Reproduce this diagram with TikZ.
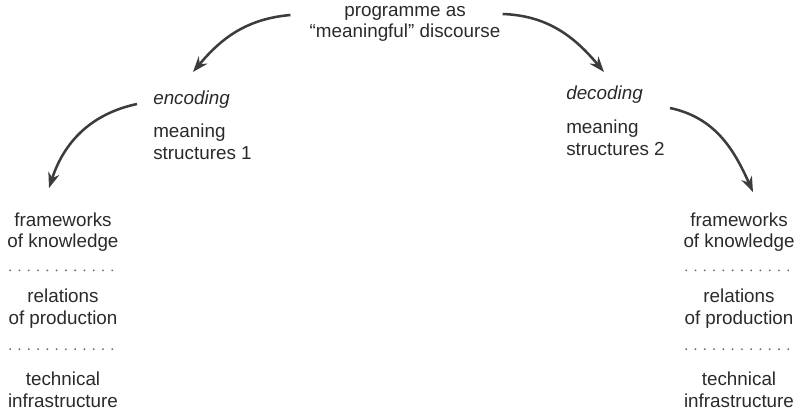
\documentclass[tikz,border=0pt]{standalone}
\usepackage{fontspec}
\setmainfont{Liberation Sans}
\usetikzlibrary{positioning, calc, arrows.meta}

\definecolor{inkgray}{HTML}{2A2A2A}
\definecolor{arrowgray}{HTML}{3C3C3C}
\definecolor{dotgray}{HTML}{707070}

\tikzset{
    txt/.style={inner sep=0pt, text=inkgray, font=\fontsize{13.4}{15.4}\selectfont},
    flow/.style={arrowgray, line width=1.8pt, -{Stealth[length=11pt, width=8pt, inset=3.5pt]}},
    sep/.style={dotgray, line width=1.5pt, line cap=round, dash pattern=on 0pt off 6.6pt}
}

\begin{document}
\begin{tikzpicture}
    \useasboundingbox (0,0) rectangle (20,-10.25);

    \node (prog) at (10.125,-0.6) [txt, align=center] {programme as\\“meaningful” discourse};

    \node (enc) at (3.825,-2.5) [txt, anchor=west] {\itshape encoding};
    \node (ms1) [below=0.36cm of enc.south west, anchor=north west, txt, align=left] {meaning\\structures 1};

    \node (dec) at (14.15,-2.375) [txt, anchor=west] {\itshape decoding};
    \node (ms2) [below=0.4cm of dec.south west, anchor=north west, txt, align=left] {meaning\\structures 2};

    \foreach \s/\x in {L/1.575, R/18.475}
    {
        \node (fk\s) at (\x,-5.8) [txt, align=center] {frameworks\\of knowledge};
        \node (rp\s) at (\x,-7.72) [txt, align=center] {relations\\of production};
        \node (ti\s) at (\x,-9.74) [txt, align=center] {technical\\infrastructure};

        \draw[sep] ($(fk\s)!0.5!(rp\s)+(-1.32,0)$) -- ($(fk\s)!0.5!(rp\s)+(1.32,0)$);
        \draw[sep] ($(rp\s)!0.5!(ti\s)+(-1.32,0)$) -- ($(rp\s)!0.5!(ti\s)+(1.32,0)$);
    }

    \draw[flow] ([shift={(-0.475,0.225)}]prog.west) to[out=185, in=50] ([shift={(1.0,0.7)}]enc.west);
    \draw[flow] ([shift={(0.05,0.25)}]prog.east) to[out=-2, in=130] ([shift={(0.95,0.575)}]dec.west);
    \draw[flow] ([shift={(-0.4,-0.1)}]enc.west) to[out=192, in=72] ([shift={(-0.35,0.6)}]fkL.north);
    \draw[flow] ([shift={(0.675,-0.325)}]dec.east) to[out=-12, in=114] ([shift={(0.35,0.5)}]fkR.north);
\end{tikzpicture}
\end{document}
